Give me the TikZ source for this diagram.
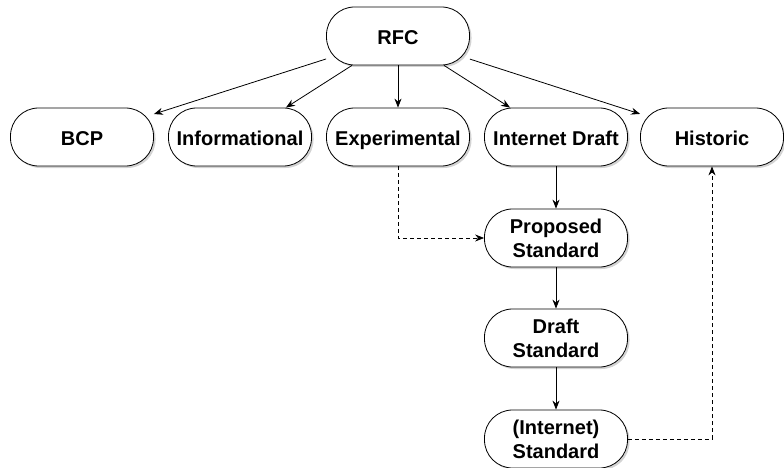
\documentclass[tikz,border=0pt]{standalone}
\usepackage{fontspec}
\setmainfont{Liberation Sans}
\usepackage{tikz}
\usetikzlibrary{shapes,arrows,positioning,calc,shadows,arrows.meta}

\tikzset{
    rfcbox/.style={draw, thick, fill=white, rectangle, rounded corners=28pt,
        minimum width=143pt, minimum height=58pt, align=center,
        font=\fontsize{20}{24}\selectfont\bfseries,
        drop shadow={shadow xshift=2pt, shadow yshift=-2pt, opacity=0.35}},
    oneline/.style={rfcbox, text height=18pt, text depth=0pt},
    link/.style={-{Stealth[length=9pt,width=7pt]}, thick},
    maybe/.style={link, dash pattern=on 4pt off 3pt}
}

\begin{document}
\begin{tikzpicture}[x=1pt,y=-1pt]
    \useasboundingbox (0,0) rectangle (784,468);

    \node[oneline] (rfc) at (398,36) {RFC};

    \node[oneline] (bcp)  at (82,137)  {BCP};
    \node[oneline] (info) at (240,137) {Informational};
    \node[oneline] (exp)  at (398,137) {Experimental};
    \node[oneline] (id)   at (556,137) {Internet Draft};
    \node[oneline] (hist) at (712,137) {Historic};

    \node[rfcbox] (prop) at (556,238) {Proposed\\Standard};
    \node[rfcbox] (ds)   at (556,338) {Draft\\Standard};
    \node[rfcbox] (std)  at (556,439) {(Internet)\\Standard};

    \draw[link] (rfc) -- (bcp);
    \draw[link] (rfc) -- (info);
    \draw[link] (rfc) -- (exp);
    \draw[link] (rfc) -- (id);
    \draw[link] (rfc) -- (hist);

    \draw[link] (id) -- (prop);
    \draw[link] (prop) -- (ds);
    \draw[link] (ds) -- (std);

    \draw[maybe] (exp.south) |- (prop.west);
    \draw[maybe] (std.east) -| (hist.south);
\end{tikzpicture}
\end{document}
